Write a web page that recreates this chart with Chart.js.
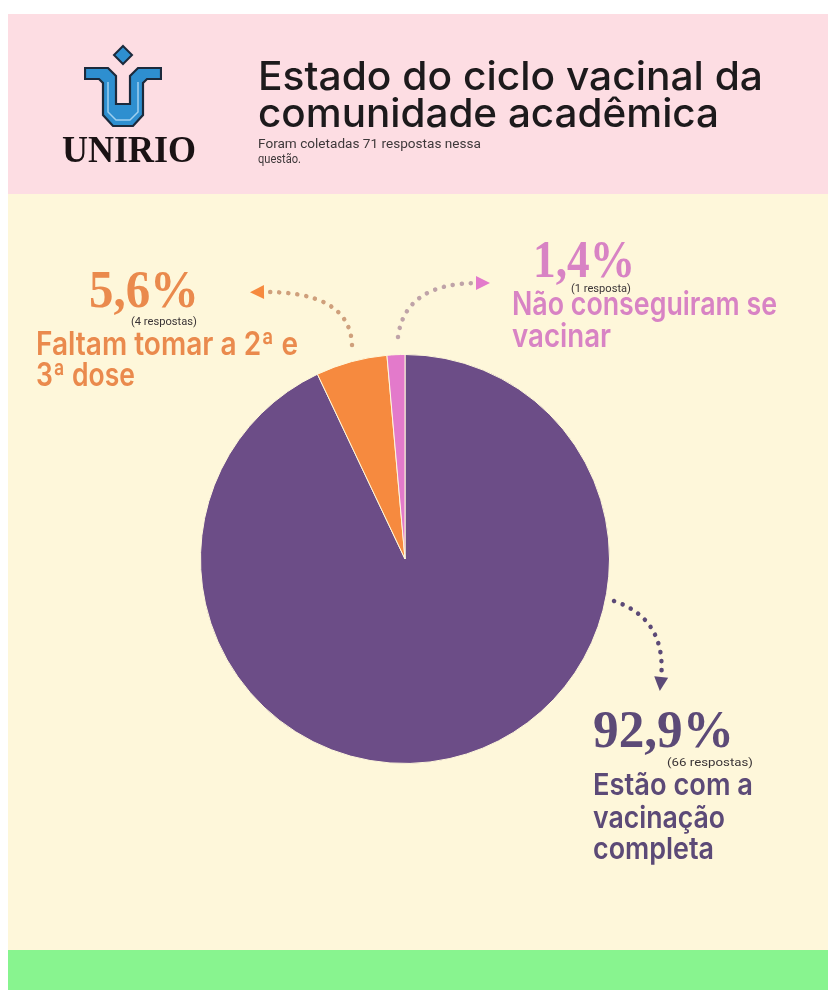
<!DOCTYPE html>
<html>
<head>
<meta charset="utf-8">
<script src="https://cdn.jsdelivr.net/npm/chart.js@4.4.1/dist/chart.umd.min.js"></script>
<style>
  html,body{margin:0;padding:0;background:#fff;}
  #page{position:relative;width:828px;height:990px;overflow:hidden;background:#fff;}
  .bg{position:absolute;}
  #chart{position:absolute;left:0;top:0;}
  .t{position:absolute;white-space:nowrap;transform-origin:0 0;line-height:1.2;}
</style>
</head>
<body>
<div id="page">
  <div class="bg" style="left:8px;top:14px;width:820px;height:180px;background:#FDDDE3;"></div>
  <div class="bg" style="left:8px;top:194px;width:820px;height:756px;background:#FEF7DA;"></div>
  <div class="bg" style="left:8px;top:950px;width:820px;height:40px;background:#88F48F;"></div>
  <svg style="position:absolute;left:84px;top:44px;" width="78" height="84" viewBox="0 0 78 84">
    <path d="M39 2 L48 11 L39 20 L30 11 Z" fill="#2E8FD0" stroke="#1c2a3c" stroke-width="2"/>
    <path d="M1 24 L24 24 L32 32 L32 60 L46 60 L46 32 L54 24 L77 24 L77 35 L63 35 L59 39 L59 71 L49 82 L29 82 L19 71 L19 39 L15 35 L1 35 Z" fill="#2E8FD0" stroke="#1c2a3c" stroke-width="2.2"/>
    <path d="M24 38 L24 68 L32 76 L46 76 L54 68 L54 38" fill="none" stroke="#9fd0ef" stroke-width="1.5"/>
  </svg>
  <canvas id="chart" width="828" height="990"></canvas>
</div>
<script>
// ---- data ----
const categories = ['Estão com a vacinação completa', 'Faltam tomar a 2ª e 3ª dose', 'Não conseguiram se vacinar'];
const responses = [66, 4, 1];
const percentLabels = ['92,9%', '5,6%', '1,4%'];
const countLabels = ['(66 respostas)', '(4 respostas)', '(1 resposta)'];
const sliceColors = ['#6C4D87', '#F68A3F', '#E37ACB'];
const textColors = ['#5C4A77', '#EA8A4D', '#D883C4'];
const dotColors = ['#5C4A77', '#CFA07C', '#BFA3A8'];
const titleLines = ['Estado do ciclo vacinal da', 'comunidade acadêmica'];
const subtitleLines = ['Foram coletadas 71 respostas nessa', 'questão.'];

const page = document.getElementById('page');

function place(txt, x, base, o) {
  const d = document.createElement('div');
  d.className = 't';
  d.style.left = x + 'px';
  d.style.top = '0px';
  d.style.font = (o.weight || 400) + ' ' + o.size + 'px ' + o.family;
  d.style.color = o.color;
  const s = document.createElement('span');
  s.textContent = txt;
  d.appendChild(s);
  const m = document.createElement('span');
  m.style.cssText = 'display:inline-block;width:0;height:0;vertical-align:baseline;';
  d.appendChild(m);
  page.appendChild(d);
  const b = m.offsetTop;
  d.style.top = (base - b) + 'px';
  if (o.width) {
    const w = s.getBoundingClientRect().width;
    d.style.transform = 'scaleX(' + (o.width / w) + ')';
  }
  return d;
}

// arrows plugin (annotations relative to the pie centre)
const arrowDefs = [
  {i: 1, s: [-53, -214], c: [-55, -268], e: [-143, -267]},
  {i: 2, s: [-7, -222], c: [0, -276], e: [73, -276]},
  {i: 0, s: [209, 42], c: [262, 60], e: [256, 120]}
];
const arrowPlugin = {
  id: 'arrows',
  afterDraw(chart) {
    const arc = chart.getDatasetMeta(0).data[0];
    const cx = arc.x, cy = arc.y;
    const ctx = chart.ctx;
    ctx.save();
    arrowDefs.forEach(a => {
      const sx = cx + a.s[0], sy = cy + a.s[1];
      const qx = cx + a.c[0], qy = cy + a.c[1];
      const ex = cx + a.e[0], ey = cy + a.e[1];
      ctx.beginPath();
      ctx.setLineDash([0.1, 9]);
      ctx.lineCap = 'round';
      ctx.lineWidth = 4.5;
      ctx.strokeStyle = dotColors[a.i];
      ctx.moveTo(sx, sy);
      ctx.quadraticCurveTo(qx, qy, ex, ey);
      ctx.stroke();
      ctx.setLineDash([]);
      let dx = ex - qx, dy = ey - qy;
      const L = Math.hypot(dx, dy); dx /= L; dy /= L;
      const tx = ex + dx * 12, ty = ey + dy * 12;
      const px = -dy, py = dx;
      ctx.beginPath();
      ctx.moveTo(tx, ty);
      ctx.lineTo(ex - dx * 2 + px * 7, ey - dy * 2 + py * 7);
      ctx.lineTo(ex - dx * 2 - px * 7, ey - dy * 2 - py * 7);
      ctx.closePath();
      ctx.fillStyle = a.i === 0 ? textColors[0] : sliceColors[a.i];
      ctx.fill();
    });
    ctx.restore();
  }
};

new Chart(document.getElementById('chart'), {
  type: 'pie',
  data: {
    labels: categories,
    datasets: [{
      data: responses,
      backgroundColor: sliceColors,
      borderColor: '#FEF7DA',
      borderWidth: 1
    }]
  },
  options: {
    responsive: false,
    animation: false,
    events: [],
    layout: {padding: {left: 200, right: 218, top: 354, bottom: 226}},
    plugins: {legend: {display: false}, tooltip: {enabled: false}}
  },
  plugins: [arrowPlugin]
});

document.fonts.ready.then(() => {
  // title block
  place(titleLines[0], 258, 90, {size: 40, family: 'Inter', weight: 500, color: '#1d1a1c', width: 505});
  place(titleLines[1], 258, 127, {size: 40, family: 'Inter', weight: 500, color: '#1d1a1c', width: 461});
  place(subtitleLines[0], 258, 148, {size: 12, family: 'Roboto', weight: 400, color: '#3e383a', width: 223});
  place(subtitleLines[1], 258, 163, {size: 12, family: 'Roboto', weight: 400, color: '#3e383a', width: 43});
  place('UNIRIO', 62, 162, {size: 37, family: '"Liberation Serif"', weight: 700, color: '#1a1214', width: 134});

  const pct = {family: '"Liberation Serif"', weight: 700};
  const lab = {family: 'Inter', weight: 600};
  const small = {family: 'Roboto', weight: 400, size: 11, color: '#3a3436'};
  // 5,6%
  place(percentLabels[1], 89, 307, Object.assign({size: 52, color: textColors[1], width: 110}, pct));
  place(countLabels[1], 131, 325, Object.assign({width: 66}, small));
  place('Faltam tomar a 2ª e', 36, 355, Object.assign({size: 32, color: textColors[1], width: 262}, lab));
  place('3ª dose', 36, 386, Object.assign({size: 32, color: textColors[1], width: 99}, lab));
  // 1,4%
  place(percentLabels[2], 533, 277, Object.assign({size: 52, color: textColors[2], width: 102}, pct));
  place(countLabels[2], 571, 292, Object.assign({width: 60}, small));
  place('Não conseguiram se', 512, 315, Object.assign({size: 32, color: textColors[2], width: 265}, lab));
  place('vacinar', 512, 347, Object.assign({size: 32, color: textColors[2], width: 99}, lab));
  // 92,9%
  place(percentLabels[0], 593, 747, Object.assign({size: 53, color: textColors[0], width: 141}, pct));
  place(countLabels[0], 667, 766, Object.assign({width: 86}, small));
  place('Estão com a', 593, 795, Object.assign({size: 30, color: textColors[0], width: 160}, lab));
  place('vacinação', 593, 828, Object.assign({size: 30, color: textColors[0], width: 132}, lab));
  place('completa', 593, 859, Object.assign({size: 30, color: textColors[0], width: 121}, lab));
});
</script>
</body>
</html>
